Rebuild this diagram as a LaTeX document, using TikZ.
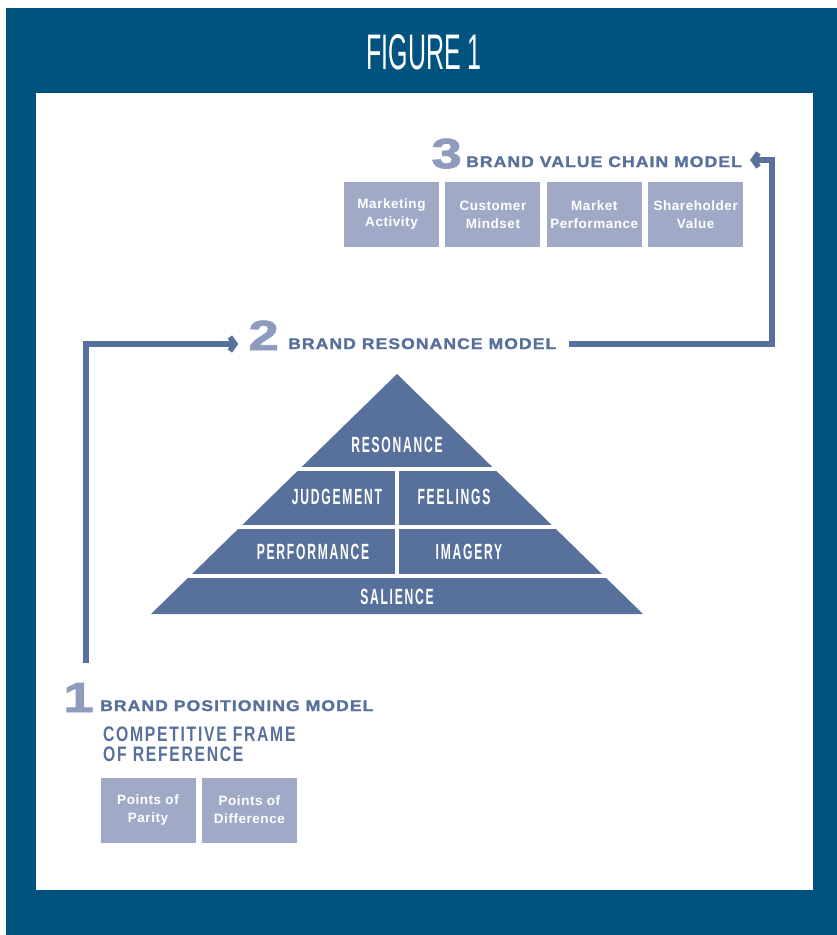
\documentclass[tikz,border=0pt]{standalone}
\usepackage{fontspec}
\usepackage{xcolor}
\usetikzlibrary{positioning, calc, arrows.meta}

\setmainfont{Liberation Sans}
\newfontfamily\titlefont[FakeStretch=0.5]{Liberation Sans}
\newfontfamily\layerfont[FakeStretch=0.55,LetterSpace=8]{Liberation Sans}
\newfontfamily\framefont[FakeStretch=0.75,LetterSpace=8]{Liberation Sans}
\newfontfamily\modelfont[FakeStretch=1.14,LetterSpace=7,BoldFeatures={FakeBold=1.6}]{Liberation Sans}
\newfontfamily\numfont[FakeStretch=1.3,BoldFeatures={FakeBold=2}]{Liberation Sans}
\newfontfamily\boxfont[LetterSpace=4]{Liberation Sans}

\definecolor{frameblue}{HTML}{00527F}
\definecolor{slate}{HTML}{58719C}
\definecolor{boxgrey}{HTML}{A0AAC7}
\definecolor{numgrey}{HTML}{8D9BBC}

\tikzset{
  modelnum/.style={font=\numfont\bfseries\fontsize{42}{42}\selectfont, text=numgrey, inner sep=0pt},
  modelname/.style={font=\modelfont\bfseries\fontsize{15.4}{18}\selectfont, text=slate, inner sep=0pt},
  stepcard/.style={fill=boxgrey, text=white, minimum width=95pt, minimum height=65pt,
    inner sep=0pt, align=center, font=\boxfont\bfseries\fontsize{13.5}{18}\selectfont},
  layer/.style={text=white, inner sep=0pt, font=\layerfont\bfseries\fontsize{22}{22}\selectfont},
  link/.style={draw=slate, line width=5.5pt, -{Straight Barb[length=5pt,width=14pt]}},
}

\begin{document}
\begin{tikzpicture}[x=1pt, y=-1pt]

    \useasboundingbox (0,0) rectangle (837,935);

    % Blue frame with the white panel inside
    \fill[frameblue] (6,8) rectangle (837,935);
    \fill[white] (36,93) rectangle (813,890);
    \node[font=\titlefont\fontsize{50}{50}\selectfont, text=white] (fig) at (424,52) {FIGURE 1};

    % Model 3: brand value chain
    \node[modelnum, anchor=base east] (n3) at (462,168) {3};
    \node[modelname, anchor=base west] (hdr3) at (466,167) {BRAND VALUE CHAIN MODEL};
    \node[stepcard] (mkt) at (391.5,214.5) {Marketing\\Activity};
    \node[stepcard, right=6pt of mkt] (cust) {Customer\\Mindset};
    \node[stepcard, right=6pt of cust] (perf) {Market\\Performance};
    \node[stepcard, right=6pt of perf] (share) {Shareholder\\Value};

    % Model 2: brand resonance
    \node[modelnum, anchor=base east] (n2) at (279,350) {2};
    \node[modelname, anchor=base west] (hdr2) at (288,349) {BRAND RESONANCE MODEL};

    % Pyramid, cut into layers by white gaps
    \coordinate (apex) at (397,374);
    \fill[slate] (apex) -- (151,614) -- (643,614) -- cycle;
    \draw[white, line width=4pt] (140,469) -- (660,469);
    \draw[white, line width=4pt] (140,526.5) -- (660,526.5);
    \draw[white, line width=4pt] (140,576) -- (660,576);
    \draw[white, line width=4pt] (397,469) -- (397,576);

    \node[layer] (res) at (397,445) {RESONANCE};
    \node[layer] (judge) at (337,497) {JUDGEMENT};
    \node[layer] (feel) at (454,497) {FEELINGS};
    \node[layer] (perfm) at (313,552) {PERFORMANCE};
    \node[layer] (img) at (469,552) {IMAGERY};
    \node[layer] (sal) at (397,597) {SALIENCE};

    % Model 1: brand positioning
    \node[modelnum, anchor=base east] (n1) at (94,712) {1};
    \node[modelname, anchor=base west] (hdr1) at (100,711) {BRAND POSITIONING MODEL};
    \node[font=\framefont\bfseries\fontsize{21}{20}\selectfont, text=slate, align=left,
          anchor=north west, inner sep=0pt] (frame) at (103,727) {COMPETITIVE FRAME\\OF REFERENCE};
    \node[stepcard] (parity) at (148,810) {Points of\\Parity};
    \node[stepcard, right=6pt of parity] (diff) {Points of\\Difference};

    % Connectors 1 -> 2 -> 3
    \coordinate (start) at (86,663);
    \draw[link] (start) |- ([xshift=-10pt,yshift=6pt]n2.base west);
    \draw[link] ([xshift=12pt,yshift=5pt]hdr2.base east)
                -| ([xshift=30pt,yshift=7pt]hdr3.base east)
                -- ([xshift=8pt,yshift=7pt]hdr3.base east);

\end{tikzpicture}
\end{document}
